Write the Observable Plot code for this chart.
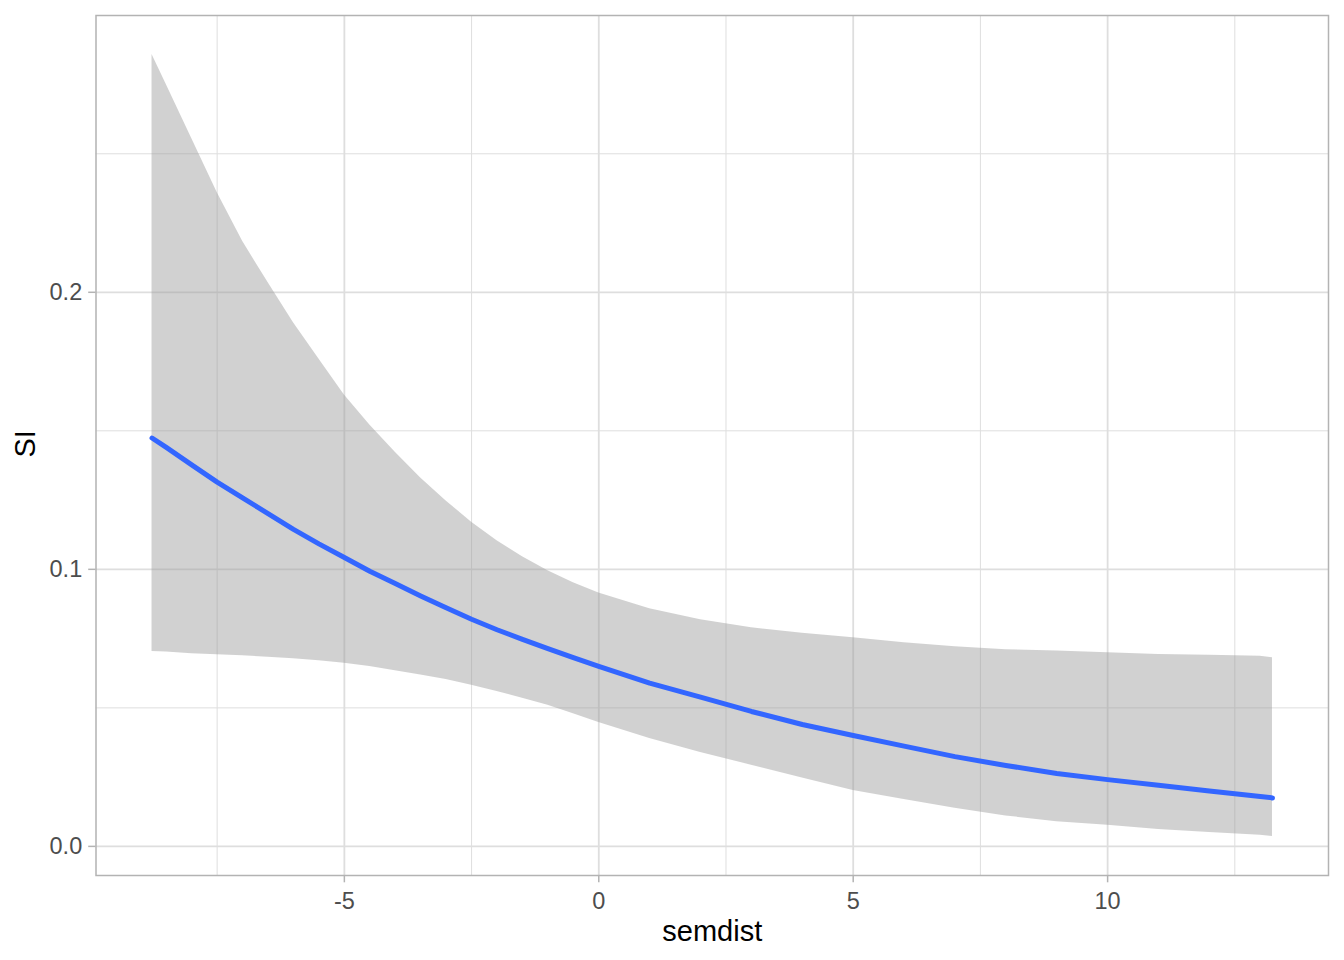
<!DOCTYPE html>
<html>
<head>
<meta charset="utf-8">
<script src="https://cdn.jsdelivr.net/npm/d3@7"></script>
<script src="https://cdn.jsdelivr.net/npm/@observablehq/plot@0.6"></script>
<style>
  html, body { margin: 0; padding: 0; background: #ffffff; }
  #chart { width: 1344px; height: 960px; }
</style>
</head>
<body>
<div id="chart"></div>
<script>
// semdist values (x)
const semdist = [-8.78, -8.5, -8, -7.5, -7, -6.5, -6, -5.5, -5, -4.5, -4, -3.5, -3, -2.5, -2, -1.5, -1, -0.5, 0, 1, 2, 3, 4, 5, 6, 7, 8, 9, 10, 11, 12, 13, 13.24];
// fitted SI
const fitSI = [0.1474, 0.1440, 0.1377, 0.1315, 0.1258, 0.1201, 0.1144, 0.1092, 0.1043, 0.0993, 0.0949, 0.0904, 0.0861, 0.0820, 0.0782, 0.0747, 0.0714, 0.0681, 0.0650, 0.0589, 0.0539, 0.0487, 0.0440, 0.0400, 0.0362, 0.0324, 0.0292, 0.0263, 0.0241, 0.0221, 0.0200, 0.0180, 0.0175];
// lower confidence bound
const lowerSI = [0.0703, 0.0702, 0.0695, 0.0692, 0.0688, 0.0683, 0.0677, 0.0670, 0.0661, 0.0649, 0.0634, 0.0619, 0.0602, 0.0582, 0.0559, 0.0535, 0.0509, 0.0479, 0.0447, 0.0389, 0.0339, 0.0293, 0.0247, 0.0202, 0.0169, 0.0138, 0.0110, 0.0089, 0.0076, 0.0061, 0.0050, 0.0040, 0.0036];
// upper confidence bound
const upperSI = [0.2858, 0.2750, 0.2555, 0.2360, 0.2184, 0.2035, 0.1890, 0.1759, 0.1629, 0.1521, 0.1423, 0.1330, 0.1247, 0.1170, 0.1103, 0.1045, 0.0995, 0.0952, 0.0915, 0.0858, 0.0818, 0.0789, 0.0769, 0.0753, 0.0735, 0.0721, 0.0710, 0.0705, 0.0699, 0.0693, 0.0690, 0.0686, 0.0681];

// axis ticks and grid
const xMajor = [-5, 0, 5, 10];
const xMinor = [-7.5, -2.5, 2.5, 7.5, 12.5];
const yMajor = [0, 0.1, 0.2];
const yMinor = [0.05, 0.15, 0.25];
const xTitle = "semdist";
const yTitle = "SI";

const data = semdist.map((x, i) => ({x, fit: fitSI[i], lo: lowerSI[i], hi: upperSI[i]}));

const xRange = d3.extent(semdist);
const yRange = [d3.min(lowerSI), d3.max(upperSI)];
const xPad = (xRange[1] - xRange[0]) * 0.05;
const yPad = (yRange[1] - yRange[0]) * 0.05;

const gridColor = "#dedede";
const font = "'Liberation Sans', Arial, Helvetica, sans-serif";

const chart = Plot.plot({
  width: 1344,
  height: 960,
  marginLeft: 95.5,
  marginRight: 16,
  marginTop: 15,
  marginBottom: 85,
  style: {fontFamily: font, background: "#ffffff", overflow: "visible"},
  x: {domain: [xRange[0] - xPad, xRange[1] + xPad]},
  y: {domain: [yRange[0] - yPad, yRange[1] + yPad]},
  marks: [
    Plot.ruleX(xMinor, {stroke: gridColor, strokeWidth: 1}),
    Plot.ruleY(yMinor, {stroke: gridColor, strokeWidth: 1}),
    Plot.ruleX(xMajor, {stroke: gridColor, strokeWidth: 1.8}),
    Plot.ruleY(yMajor, {stroke: gridColor, strokeWidth: 1.8}),
    Plot.areaY(data, {x: "x", y1: "lo", y2: "hi", fill: "#999999", fillOpacity: 0.45}),
    Plot.line(data, {x: "x", y: "fit", stroke: "#3366FF", strokeWidth: 5}),
    Plot.frame({stroke: "#b3b3b3", strokeWidth: 1.5}),
    Plot.axisX({ticks: xMajor, tickFormat: d => String(d), tickSize: 7.3, tickPadding: 9.4,
      stroke: "#b3b3b3", strokeWidth: 1.5, fill: "#4d4d4d", fontSize: 23.5, label: null}),
    Plot.axisY({ticks: yMajor, tickFormat: d3.format(".1f"), tickSize: 7.3, tickPadding: 6.5,
      stroke: "#b3b3b3", strokeWidth: 1.5, fill: "#4d4d4d", fontSize: 23.5, label: null}),
    Plot.text([xTitle], {frameAnchor: "bottom", dy: 65, text: d => d, fontSize: 29, fill: "#000000"}),
    Plot.text([yTitle], {frameAnchor: "left", dx: -70.5, dy: 12, rotate: -90, text: d => d, fontSize: 29, fill: "#000000"})
  ]
});
document.getElementById("chart").appendChild(chart);
</script>
</body>
</html>
